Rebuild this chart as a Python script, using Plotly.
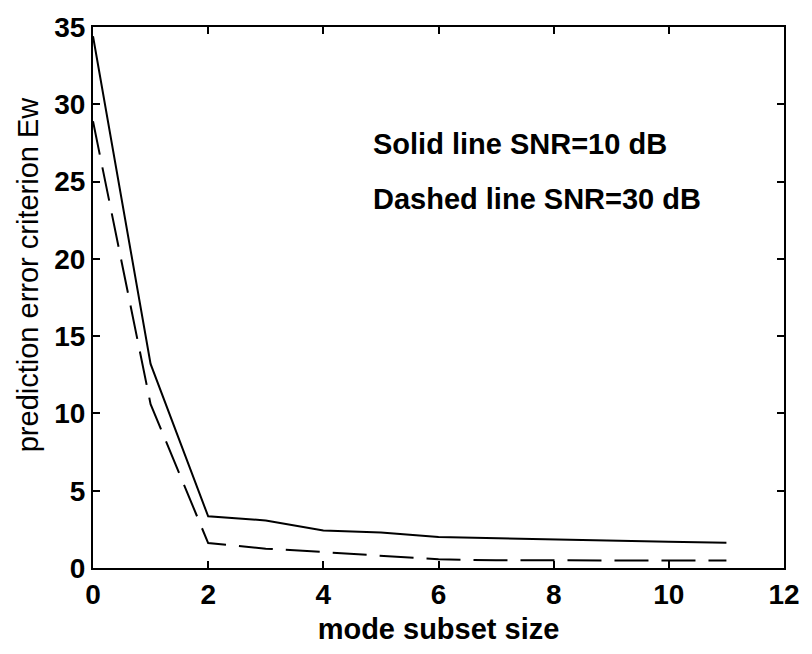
import plotly.graph_objects as go

# mode subset size
subset_size = [0, 1, 2, 3, 4, 5, 6, 7, 8, 9, 10, 11]
# prediction error criterion Ew
ew_snr10 = [34.4, 13.2, 3.34, 3.08, 2.43, 2.3, 2.0, 1.92, 1.83, 1.74, 1.70, 1.64]
ew_snr30 = [28.9, 10.6, 1.61, 1.25, 1.03, 0.8, 0.56, 0.5, 0.49, 0.48, 0.48, 0.48]

x_ticks = [0, 2, 4, 6, 8, 10, 12]
y_ticks = [0, 5, 10, 15, 20, 25, 30, 35]

font_family = "Liberation Sans, Arial, sans-serif"

fig = go.Figure()
fig.add_trace(go.Scatter(x=subset_size, y=ew_snr10, mode="lines",
                         line=dict(color="black", width=2)))
fig.add_trace(go.Scatter(x=subset_size, y=ew_snr30, mode="lines",
                         line=dict(color="black", width=2, dash="34px,13px")))

fig.add_annotation(x=4.82, y=27.4, xref="x", yref="y", text="Solid line SNR=10 dB",
                   showarrow=False, xanchor="left", yanchor="middle",
                   font=dict(family=font_family, size=29, color="black", weight="bold"))
fig.add_annotation(x=4.82, y=23.85, xref="x", yref="y", text="Dashed line SNR=30 dB",
                   showarrow=False, xanchor="left", yanchor="middle",
                   font=dict(family=font_family, size=29, color="black", weight="bold"))

# vertical axis title, placed a little above the plot's mid-height
fig.add_annotation(x=-0.094, y=0.543, xref="paper", yref="paper",
                   text="prediction error criterion Ew", textangle=-90,
                   showarrow=False, xanchor="center", yanchor="middle",
                   font=dict(family=font_family, size=29, color="black"))

axis_common = dict(showgrid=False, zeroline=False, showline=True, linecolor="black",
                   linewidth=2, mirror="ticks", ticks="inside", ticklen=7,
                   tickwidth=2, tickcolor="black",
                   tickfont=dict(family=font_family, size=28, color="black", weight="bold"))

fig.update_layout(
    width=812, height=654,
    margin=dict(l=93, r=17, t=25, b=86),
    paper_bgcolor="white", plot_bgcolor="white",
    showlegend=False,
    xaxis=dict(range=[0, 12], tickvals=x_ticks,
               title=dict(text="mode subset size", standoff=10,
                          font=dict(family=font_family, size=29, color="black", weight="bold")),
               **axis_common),
    yaxis=dict(range=[0, 35], tickvals=y_ticks, **axis_common),
)

fig.write_html("out.html")
